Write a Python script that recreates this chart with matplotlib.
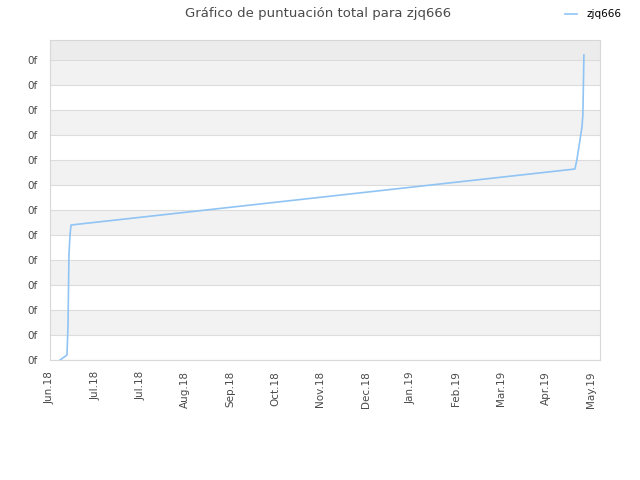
import matplotlib
matplotlib.use("Agg")
import matplotlib.pyplot as plt

# days since the start of the x axis (Jun.18) and score level
days = [6.7, 11.3, 12.0, 12.6, 13.3, 14.0, 349.3, 350.6, 354.0, 354.6, 355.3]
score = [0.0, 0.2, 1.4, 4.2, 5.0, 5.4, 7.64, 8.0, 9.32, 9.8, 12.2]

tick_days = [0, 30, 60, 90, 120, 150, 180, 210, 240, 270, 300, 330, 360]
tick_labels = ["Jun.18", "Jul.18", "Jul.18", "Aug.18", "Sep.18", "Oct.18", "Nov.18",
               "Dec.18", "Jan.19", "Feb.19", "Mar.19", "Apr.19", "May.19"]
y_ticks = list(range(13))
y_labels = ["0f"] * 13

fig = plt.figure(figsize=(6.4, 4.8), dpi=100)
ax = fig.add_axes([50 / 640, 120 / 480, 550 / 640, 320 / 480])

# alternating bands
for lo in range(1, 12, 2):
    ax.axhspan(lo, lo + 1, color="#f2f2f2", zorder=0, lw=0)
ax.axhspan(12, 12.8, color="#ececec", zorder=0, lw=0)
for y in y_ticks:
    ax.axhline(y, color="#dcdcdc", lw=0.8, zorder=1)

ax.plot(days, score, color="#90c4f5", lw=1.2, label="zjq666", zorder=3)

ax.set_xlim(0, 366)
ax.set_ylim(0, 12.8)
ax.set_xticks(tick_days)
ax.set_xticklabels(tick_labels, rotation=90, fontsize=7.5, color="#4a4a4a")
ax.set_yticks(y_ticks)
ax.set_yticklabels(y_labels, fontsize=7.5, color="#4a4a4a")
ax.tick_params(axis="x", length=0, pad=8)
ax.tick_params(axis="y", length=0, pad=9)
for s in ax.spines.values():
    s.set_color("#d8d8d8")
    s.set_linewidth(0.8)

fig.suptitle("Gráfico de puntuación total para zjq666", x=318 / 640, y=1 - 13 / 480,
             va="center", fontsize=9.5, color="#4a4a4a")
fig.legend(loc="upper right", bbox_to_anchor=(0.985, 1.0), frameon=False,
           fontsize=7.5, handlelength=1.1, handletextpad=0.9)

fig.savefig("out.png", dpi=100)
